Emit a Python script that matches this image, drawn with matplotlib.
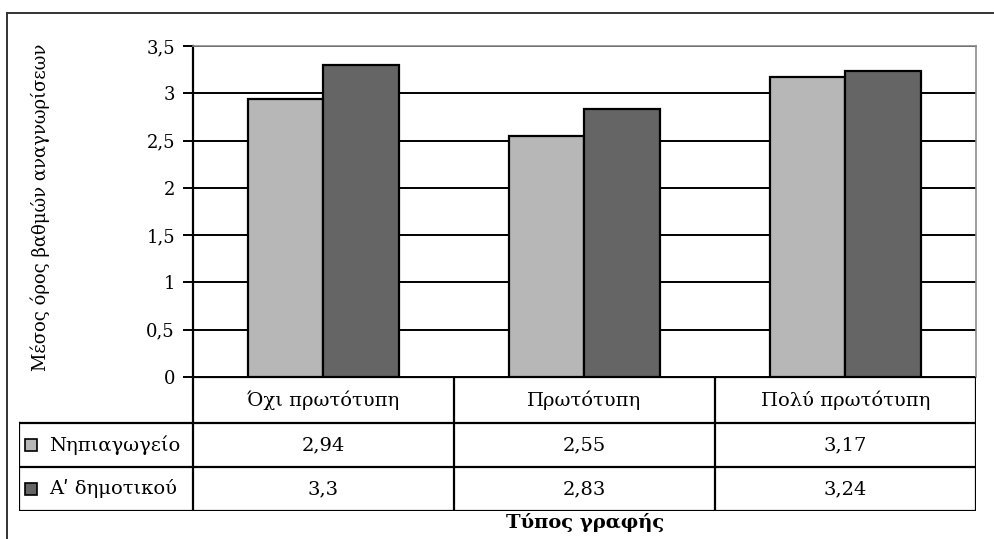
import matplotlib
matplotlib.use("Agg")
import matplotlib.pyplot as plt
from matplotlib.patches import Rectangle

# data
categories = ["Όχι πρωτότυπη", "Πρωτότυπη", "Πολύ πρωτότυπη"]
series_names = ["Νηπιαγωγείο", "Α\u02b9 δημοτικού"]
nipiagogeio = [2.94, 2.55, 3.17]
a_dimotikou = [3.30, 2.83, 3.24]
yticks = [0, 0.5, 1, 1.5, 2, 2.5, 3, 3.5]

series = [nipiagogeio, a_dimotikou]
colors = ["#b7b7b7", "#656565"]

plt.rcParams["font.family"] = ["DejaVu Serif"]

W, H = 995, 539
fig = plt.figure(figsize=(W / 100, H / 100), dpi=100)

# pixel layout of the original
px_left, px_right, px_top, px_bottom = 193, 976, 46, 377
tbl_left, tbl_bottom = 19, 511
row_h = [(377, 423), (423, 467), (467, 511)]

ax = fig.add_axes([px_left / W, 1 - px_bottom / H,
                   (px_right - px_left) / W, (px_bottom - px_top) / H])

n = len(categories)
bw = 0.288
x = list(range(n))
for i, vals in enumerate(series):
    xs = [xi + (i - 0.5) * bw for xi in x]
    ax.bar(xs, vals, width=bw, color=colors[i], edgecolor="black",
           linewidth=1.6, zorder=3)

ax.set_xlim(-0.5, n - 0.5)
ax.set_ylim(0, 3.5)
ax.set_yticks(yticks)
ax.set_yticklabels([("%g" % v).replace(".", ",") for v in yticks], fontsize=13)
ax.set_xticks([])
ax.yaxis.grid(True, color="black", linewidth=1.4, zorder=0)
ax.tick_params(axis="y", length=7, width=1.4, pad=6)
ax.spines["left"].set_linewidth(1.6)
for s in ["top", "right"]:
    ax.spines[s].set_color("#8a8a8a")
    ax.spines[s].set_linewidth(1.2)
ax.spines["bottom"].set_visible(False)

fig.text(40 / W, 1 - 207 / H, "Μέσος όρος βαθμών αναγνωρίσεων",
         rotation=90, ha="center", va="center", fontsize=13)

# data table below the plot, in its own axes sharing the category scale
unit = (px_right - px_left) / n
x_tbl_left = -0.5 - (px_left - tbl_left) / unit
tax = fig.add_axes([tbl_left / W, 1 - tbl_bottom / H,
                    (px_right - tbl_left) / W, (tbl_bottom - row_h[0][0]) / H])
tax.set_xlim(x_tbl_left, n - 0.5)
tax.set_ylim(tbl_bottom, row_h[0][0])
tax.axis("off")

lw = 1.6
# horizontal lines
tax.plot([-0.5, n - 0.5], [row_h[0][0]] * 2, color="black", lw=lw)
for top, bot in row_h[1:]:
    tax.plot([x_tbl_left, n - 0.5], [top, top], color="black", lw=lw)
tax.plot([x_tbl_left, n - 0.5], [tbl_bottom] * 2, color="black", lw=lw)
# vertical lines
for k in range(n + 1):
    tax.plot([k - 0.5, k - 0.5], [row_h[0][0], tbl_bottom], color="black", lw=lw)
tax.plot([x_tbl_left] * 2, [row_h[1][0], tbl_bottom], color="black", lw=lw)

fs = 14
for k, cat in enumerate(categories):
    tax.text(k, sum(row_h[0]) / 2, cat, ha="center", va="center", fontsize=fs)
for i, vals in enumerate(series):
    yc = sum(row_h[i + 1]) / 2
    for k, v in enumerate(vals):
        tax.text(k, yc, ("%g" % v).replace(".", ","), ha="center",
                 va="center", fontsize=fs)
    tax.add_patch(Rectangle((x_tbl_left + 6 / unit, yc - 6), 12 / unit, 12,
                            facecolor=colors[i], edgecolor="black", lw=1.2))
    tax.text(x_tbl_left + 30 / unit, yc, series_names[i], ha="left",
             va="center", fontsize=fs)

fig.text(585 / W, 1 - 523 / H, "Τύπος γραφής",
         ha="center", va="center", fontsize=14, fontweight="bold")

# outer frame (top and left)
fig.add_artist(plt.Line2D([7 / W, 7 / W], [0, 1 - 13 / H],
                          color="#333333", lw=1.4))
fig.add_artist(plt.Line2D([7 / W, 993 / W], [1 - 13 / H, 1 - 13 / H],
                          color="#333333", lw=1.4))

fig.savefig("out.png", dpi=100)
